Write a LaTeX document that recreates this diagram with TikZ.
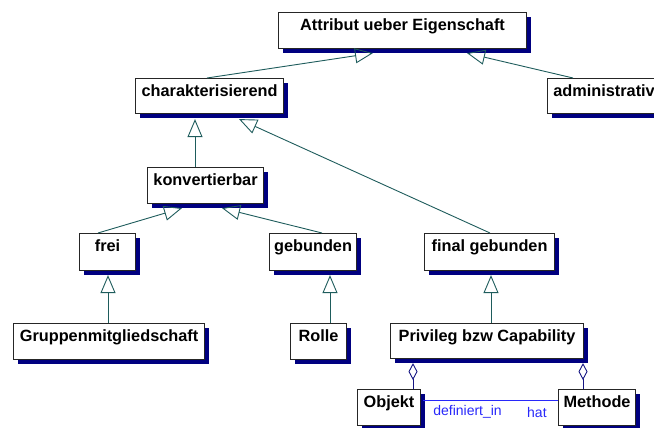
\documentclass[tikz,border=0pt]{standalone}
\usepackage{fontspec}
\setmainfont{Liberation Sans}
\usetikzlibrary{arrows.meta,calc,shadows}
\definecolor{teal1}{RGB}{30,92,92}
\definecolor{shad}{RGB}{0,0,128}
\definecolor{navy1}{RGB}{20,20,130}
\definecolor{blue1}{RGB}{40,40,250}
\begin{document}
\begin{tikzpicture}[x=1pt,y=-1pt,
  box/.style={draw=black!85, line width=1.1pt, fill=white, anchor=north west,
    inner xsep=4pt, inner ysep=6pt, text height=12pt, text depth=#1,
    font=\fontsize{16.3}{19}\selectfont\bfseries,
    drop shadow={shadow xshift=4pt, shadow yshift=-4pt, fill=shad, opacity=1}},
  box/.default=12pt,
  gen/.style={draw=teal1, line width=0.9pt, -{Triangle[open,length=18pt,width=15pt]}},
  agg/.style={draw=navy1, line width=0.9pt, -{Diamond[open,length=17pt,width=9pt]}},
  assoc/.style={draw=blue1, line width=0.9pt},
  lab/.style={text=blue1, font=\fontsize{14}{16}\selectfont, inner sep=0pt, anchor=base west}]
\useasboundingbox (0,0) rectangle (654,428);
\clip (0,0) rectangle (654,428);

\node[box=12pt, minimum width=248pt] (attr) at (278,12) {Attribut ueber Eigenschaft};
\node[box=11pt, minimum width=148pt] (char) at (135,78) {charakterisierend};
\node[box=11pt, minimum width=113pt] (admin) at (547,78) {administrativ};
\node[box=12pt, minimum width=116pt] (konv) at (147,167) {konvertierbar};
\node[box=13pt, minimum width=56pt] (frei) at (79,233) {frei};
\node[box=13pt, minimum width=87pt] (gebu) at (269,233) {gebunden};
\node[box=13pt, minimum width=130pt] (final) at (424,233) {final gebunden};
\node[box=12pt, minimum width=191pt] (grup) at (13,323) {Gruppenmitgliedschaft};
\node[box=12pt, minimum width=56pt] (rolle) at (290,323) {Rolle};
\node[box=11pt, minimum width=193pt] (priv) at (390,323) {Privileg bzw Capability};
\node[box=12pt, minimum width=63pt] (objekt) at (357,389) {Objekt};
\node[box=12pt, minimum width=77pt] (methode) at (558,389) {Methode};

% generalizations
\draw[gen] ($(char.north west)+(72,0)$) -- ($(attr.south west)+(95,4)$);
\draw[gen] ($(admin.north west)+(26,0)$) -- ($(attr.south west)+(189,4)$);
\draw[gen] ($(konv.north west)+(48,0)$) -- ($(char.south west)+(60,5)$);
\draw[gen] ($(final.north west)+(66,0)$) -- ($(char.south west)+(104,5)$);
\draw[gen] ($(frei.north west)+(19,0)$) -- ($(konv.south west)+(35,4)$);
\draw[gen] ($(gebu.north west)+(53,0)$) -- ($(konv.south west)+(75,4)$);
\draw[gen] ($(grup.north west)+(95,0)$) -- ($(frei.south west)+(29,4)$);
\draw[gen] ($(rolle.north west)+(40,0)$) -- ($(gebu.south west)+(61,4)$);
\draw[gen] ($(priv.north west)+(101,0)$) -- ($(final.south west)+(67,4)$);

% aggregations
\draw[agg] ($(objekt.north west)+(56,0)$) -- ($(priv.south west)+(23,4)$);
\draw[agg] ($(methode.north west)+(25,0)$) -- ($(priv.south west)+(193,4)$);

% association
\draw[assoc] ($(objekt.north east)+(2,11)$) coordinate (a1) -- ($(methode.north west)+(0,11)$) coordinate (a2);
\node[lab] (l1) at ($(a1)+(10,15)$) {definiert\_in};
\node[lab] (l2) at ($(a2)+(-31,17)$) {hat};
\end{tikzpicture}
\end{document}
